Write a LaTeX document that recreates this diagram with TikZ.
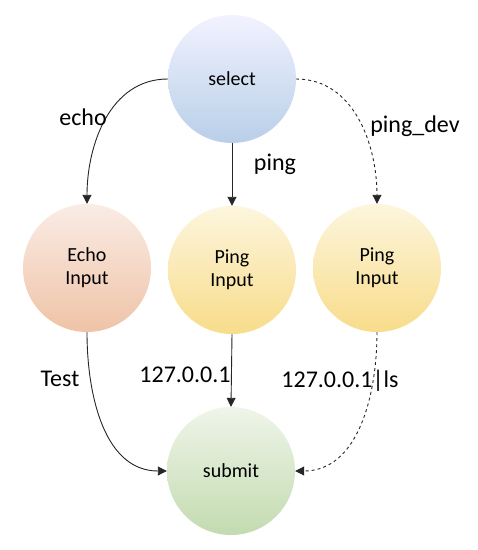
\documentclass[tikz,border=0pt]{standalone}
\usepackage{fontspec}
\setmainfont{Carlito}
\usetikzlibrary{arrows.meta}
\begin{document}
\begin{tikzpicture}[x=1pt,y=-1pt,
  state/.style={circle,minimum size=128pt,inner sep=0pt,align=center,font=\fontsize{20}{23}\selectfont},
  sel/.style={state,top color=blue!5!white,bottom color={rgb,255:red,184;green,207;blue,232}},
  echoc/.style={state,top color={rgb,255:red,250;green,236;blue,230},bottom color={rgb,255:red,239;green,195;blue,166}},
  pingc/.style={state,top color={rgb,255:red,253;green,246;blue,222},bottom color={rgb,255:red,248;green,220;blue,138}},
  subc/.style={state,top color={rgb,255:red,239;green,245;blue,233},bottom color={rgb,255:red,195;green,219;blue,176}},
  conn/.style={draw=black!85,line width=0.9pt,-{Triangle[length=9pt,width=9pt]}},
  lbl/.style={anchor=base,font=\fontsize{24}{28}\selectfont,inner sep=0pt}]
\useasboundingbox (0,0) rectangle (478,550);
\node[sel] (select) at (232,79) {select};
\node[echoc] (echo) at (87,268) {Echo\\Input};
\node[pingc] (ping) at (232,270) {Ping\\Input};
\node[pingc] (pingdev) at (377,268) {Ping\\Input};
\node[subc] (submit) at (231,471) {submit};
\draw[conn] (select.west) to[out=180,in=90] (echo.north);
\draw[conn] (select.south) -- (ping.north);
\draw[conn,dashed] (select.east) to[out=0,in=90] (pingdev.north);
\draw[conn] (echo.south) to[out=-90,in=180] (submit.west);
\draw[conn] (ping.south) -- (submit.north);
\draw[conn,dashed] (pingdev.south) to[out=-90,in=0] (submit.east);
\node[lbl] (l1) at (83,125) {echo};
\node[lbl] (l2) at (275,170) {ping};
\node[lbl] (l3) at (415,132) {ping\_dev};
\node[lbl] (l4) at (60,386) {Test};
\node[lbl] (l5) at (185,382) {127.0.0.1};
\node[lbl] (l6) at (340,387) {127.0.0.1|ls};
\end{tikzpicture}
\end{document}
